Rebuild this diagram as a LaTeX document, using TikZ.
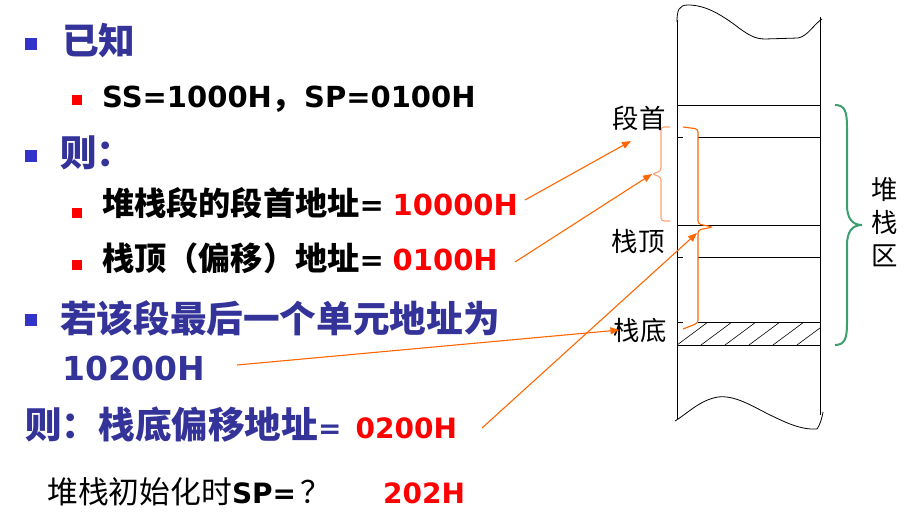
\documentclass[tikz,border=0pt]{standalone}
\usepackage{xcolor}
\usepackage{fontspec}
\usepackage{tikz}
\usetikzlibrary{arrows.meta, positioning, calc}
\setmainfont{DejaVu Sans}
\newfontfamily\cjk[Scale=1.11]{Noto Sans CJK SC}
\newfontfamily\cjkl[Scale=1.1]{Noto Sans CJK SC}
\definecolor{navyblue}{RGB}{51,51,153}
\definecolor{bulblue}{RGB}{51,51,204}
\definecolor{arrorange}{RGB}{255,102,0}
\definecolor{softorange}{RGB}{255,160,110}
\definecolor{bracegreen}{RGB}{60,160,110}

\begin{document}
\begin{tikzpicture}[x=1pt, y=-1pt,
	lvone/.style={anchor=base west, inner sep=0pt, text=navyblue, font=\fontsize{33}{38}\selectfont\bfseries},
	lvtwo/.style={anchor=base west, inner sep=0pt, font=\fontsize{29}{33}\selectfont\bfseries},
	lbl/.style={inner sep=0pt, font=\fontsize{24}{28}\selectfont\cjkl},
	bulone/.style={fill=bulblue, minimum size=12pt, inner sep=0pt},
	bultwo/.style={fill=red, minimum size=10pt, inner sep=0pt},
	ptr/.style={arrorange, line width=1.1pt, -{Triangle[length=9pt,width=7pt]}}]
	\useasboundingbox (0,0) rectangle (917,532);
	
	% bullets and text
	\node[bulone] (b1) at (31,44) {};
	\node[lvone] (known) at (62,55) {\cjk 已知};
	\node[bultwo] (r1) at (77,100) {};
	\node[lvtwo] (given) at (102,107) {SS=1000H{\cjk ，}SP=0100H};
	\node[bulone] (b2) at (31,156) {};
	\node[lvone] (then) at (60,166) {\cjk 则：};
	\node[bultwo] (r2) at (77,213) {};
	\node[lvtwo] (segbase) at (102,215) {{\cjk 堆栈段的段首地址}=\hspace{0.3em}\textcolor{red}{10000H}};
	\node[bultwo] (r3) at (77,265) {};
	\node[lvtwo] (topoff) at (102,270) {{\cjk 栈顶（偏移）地址}=\hspace{0.3em}\textcolor{red}{0100H}};
	\node[bulone] (b3) at (31,320) {};
	\node[lvone] (last) at (60,332) {\cjk 若该段最后一个单元地址为};
	\node[lvone] (lastval) at (62,380) {10200H};
	\node[lvone] (botoff) at (25,438) {{\cjk 则：栈底偏移地址}{\fontsize{28}{32}\selectfont=\hspace{0.5em}\textcolor{red}{0200H}}};
	\node[anchor=base west, inner sep=0pt, font=\fontsize{28}{32}\selectfont] (init) at (47,503) {{\cjkl 堆栈初始化时}\textbf{SP=}\hspace{4pt}{\cjkl ？}};
	\node[lvtwo, text=red, font=\fontsize{28}{32}\selectfont\bfseries] (initval) at (383,503) {202H};
	
	% stack column
	\draw[line width=0.8pt] (677,22) .. controls (677,10) and (679,5) .. (688,5) .. controls (705,5) and (720,14) .. (735,25) .. controls (748,35) and (755,39) .. (765,39) -- (798,38) .. controls (808,36) and (813,25) .. (822,19);
	\draw[line width=0.8pt] (677,20) -- (677,419);
	\draw[line width=0.8pt] (820,17) -- (820,415);
	\draw[line width=0.8pt] (675,421) .. controls (688,413) and (700,400) .. (718,397) .. controls (735,395) and (752,406) .. (770,415) .. controls (785,422) and (800,430) .. (817,429) .. controls (820,425) and (822,418) .. (823,412);
	\foreach \yy in {105,225,345}
		\draw[line width=0.8pt] (677,\yy) -- (820,\yy);
	\foreach \yy in {137,257,322}{
		\draw[line width=0.8pt] (677,\yy) -- (683,\yy);
		\draw[line width=0.8pt] (698,\yy) -- (820,\yy);
	}
	\begin{scope}
		\clip (677,322) rectangle (820,345);
		\foreach \hx in {677,701,...,821}
			\draw[line width=0.6pt] (\hx,345) -- ++(31,-23);
	\end{scope}
	
	% braces
	\draw[softorange, line width=1.1pt, rounded corners=3pt] (670,127) -- (661,127) -- (661,171) -- (652,174) -- (661,177) -- (661,221) -- (670,221);
	\draw[arrorange, line width=1.1pt, rounded corners=3pt] (683,127) -- (698,129) -- (698,224) -- (713,227) -- (698,230) -- (698,323) -- (683,329);
	\draw[bracegreen, line width=2pt] (835,105) .. controls (845,105) and (847,112) .. (847,127) -- (847,205) .. controls (847,218) and (852,225) .. (862,225) .. controls (852,225) and (847,232) .. (847,245) -- (847,323) .. controls (847,338) and (845,345) .. (835,345);
	
	% labels
	\node[lbl] (segtop) at (639,118) {段首};
	\node[lbl] (stktop) at (638,241) {栈顶};
	\node[lbl] (stkbot) at (640,330) {栈底};
	\node[lbl, align=center, font=\fontsize{24}{33}\selectfont\cjkl] (area) at (885,222) {堆\\栈\\区};
	
	% pointers
	\coordinate (s1) at (525,200);
	\coordinate (s2) at (515,262);
	\coordinate (s3) at (482,428);
	\coordinate (s4) at (237,365);
	\coordinate (ltip) at (652,174);
	\coordinate (dtip) at (697,233);
	\draw[ptr] (s1) -- (631,141);
	\draw[ptr] (s2) -- (ltip);
	\draw[ptr] (s3) -- (dtip);
	\draw[ptr] (s4) -- ([xshift=6pt]stkbot.west);
\end{tikzpicture}
\end{document}
